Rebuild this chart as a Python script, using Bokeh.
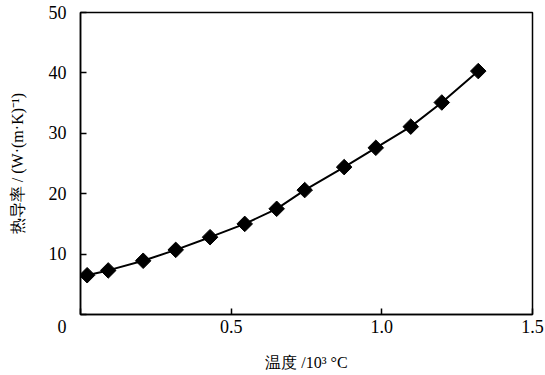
import math
from bokeh.plotting import figure
from bokeh.models import FixedTicker
from bokeh.embed import file_html
from bokeh.resources import INLINE

temperature = [0.022, 0.092, 0.208, 0.316, 0.430, 0.545, 0.651, 0.744, 0.875, 0.980, 1.096, 1.199, 1.320]
conductivity = [6.5, 7.3, 8.9, 10.7, 12.8, 15.0, 17.5, 20.6, 24.4, 27.6, 31.1, 35.1, 40.3]
x_ticks = [0, 0.5, 1.0, 1.5]
x_tick_labels = ["", "0.5", "1.0", "1.5"]
y_ticks = [0, 10, 20, 30, 40, 50]
y_tick_labels = ["\n0", "10", "20", "30", "40", "50"]

FONT_NUM = "Liberation Serif"

p = figure(width=545, height=375, output_backend="svg", toolbar_location=None,
           x_range=(0, 1.5), y_range=(0, 50),
           min_border_left=80, min_border_right=13, min_border_top=12, min_border_bottom=61)
p.background_fill_color = "white"
p.border_fill_color = "white"
p.grid.visible = False
p.outline_line_color = "black"
p.outline_line_width = 1.5

p.line(temperature, conductivity, line_color="black", line_width=2)
p.scatter(temperature, conductivity, marker="square", size=11, angle=math.pi / 4,
          fill_color="black", line_color="black")

p.xaxis.ticker = FixedTicker(ticks=x_ticks)
p.xaxis.major_label_overrides = {t: l for t, l in zip(x_ticks, x_tick_labels)}
p.yaxis.ticker = FixedTicker(ticks=y_ticks)
p.yaxis.major_label_overrides = {t: l for t, l in zip(y_ticks, y_tick_labels)}

for ax in (p.xaxis, p.yaxis):
    ax.axis_line_width = 1.5
    ax.axis_line_color = "black"
    ax.major_tick_in = 6
    ax.major_tick_out = 0
    ax.major_tick_line_width = 1.5
    ax.minor_tick_line_color = None
    ax.major_label_text_font = FONT_NUM
    ax.major_label_text_font_size = "18px"
    ax.major_label_text_color = "black"
    ax.axis_label_text_font = FONT_NUM
    ax.axis_label_text_font_size = "16px"
    ax.axis_label_text_font_style = "normal"
    ax.axis_label_text_color = "black"

p.xaxis.axis_label = "温度 /10³ °C"
p.yaxis.axis_label = "热导率 / (W·(m·K)⁻¹)"
p.xaxis.major_label_standoff = 5
p.yaxis.major_label_standoff = 14
p.xaxis.axis_label_standoff = 18
p.yaxis.axis_label_standoff = 20

open("out.html", "w").write(file_html(p, INLINE))
